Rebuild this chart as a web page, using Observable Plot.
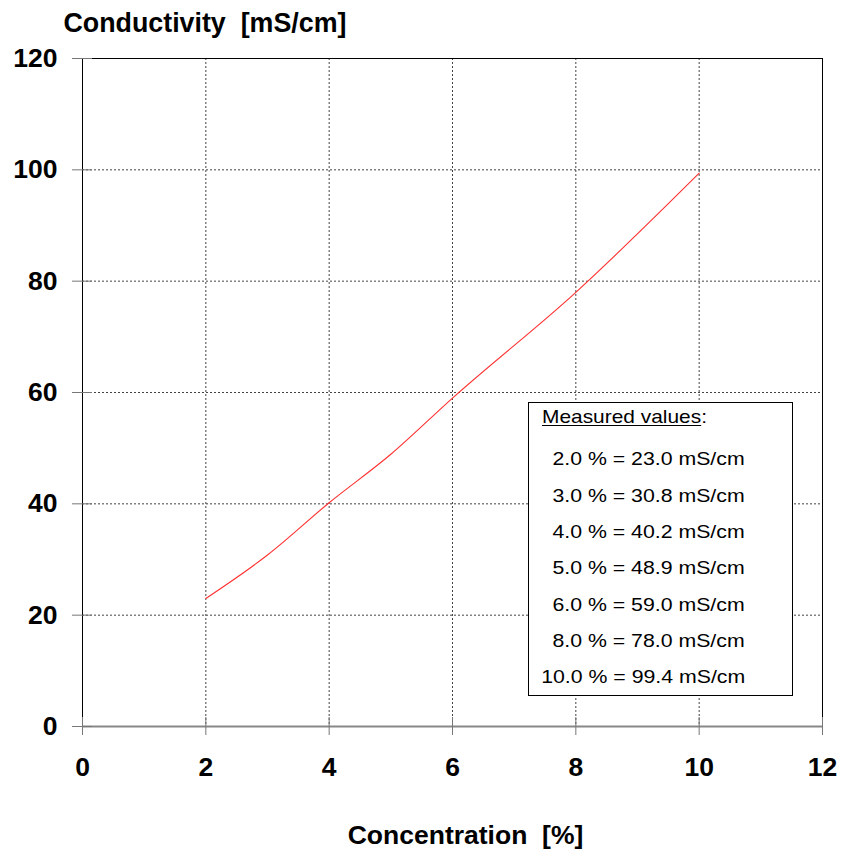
<!DOCTYPE html>
<html>
<head>
<meta charset="utf-8">
<script src="https://cdn.jsdelivr.net/npm/d3@7"></script>
<script src="https://cdn.jsdelivr.net/npm/@observablehq/plot@0.6"></script>
<style>
  html, body { margin: 0; padding: 0; background: #fff; }
  #wrap { position: relative; width: 847px; height: 852px; font-family: "Liberation Sans", Arial, sans-serif; }
  #legend { position: absolute; left: 528px; top: 402px; width: 263px; height: 292px; border: 1.5px solid #000; background: #fff; box-sizing: content-box; }
  #legend .hdr { position: absolute; left: 13px; top: 2px; font-size: 19px; line-height: 24px; transform: scaleX(1.1); transform-origin: left center; }
  #legend .hdr u { text-decoration: underline; text-underline-offset: 2px; }
  #legend .row { position: absolute; right: 47px; font-size: 19px; line-height: 24px; white-space: nowrap; transform: scaleX(1.12); transform-origin: right center; }
</style>
</head>
<body>
<div id="wrap"></div>
<script>
const concentration = [2, 3, 4, 5, 6, 8, 10];
const conductivity = [23.0, 30.8, 40.2, 48.9, 59.0, 78.0, 99.4];
const xTicks = [0, 2, 4, 6, 8, 10, 12];
const yTicks = [0, 20, 40, 60, 80, 100, 120];
const titleY = "Conductivity  [mS/cm]";
const titleX = "Concentration  [%]";
const legendTitle = "Measured values";

const data = concentration.map((c, i) => ({c, v: conductivity[i]}));
const font = "Liberation Sans, Arial, sans-serif";

const chart = Plot.plot({
  width: 847,
  height: 852,
  marginLeft: 82,
  marginTop: 58,
  marginRight: 25,
  marginBottom: 126,
  style: {fontFamily: font, background: "#fff"},
  x: {domain: [0, 12], ticks: xTicks},
  y: {domain: [0, 120], ticks: yTicks},
  marks: [
    Plot.gridX(xTicks.slice(1, -1), {stroke: "#444", strokeOpacity: 1, strokeDasharray: "2,2", strokeWidth: 1}),
    Plot.gridY(yTicks.slice(1, -1), {stroke: "#444", strokeOpacity: 1, strokeDasharray: "2,2", strokeWidth: 1}),
    Plot.frame({stroke: "#000", strokeWidth: 1}),
    Plot.ruleY([0], {stroke: "#888", strokeWidth: 2}),
    Plot.axisY(yTicks, {tickSize: 20, dx: 10, tickPadding: 15, stroke: "#777", fontSize: 26.5, fontWeight: "bold", fill: "#000", label: null}),
    Plot.axisX(xTicks, {tickSize: 18, dy: -9, tickPadding: 22, stroke: "#777", fontSize: 26.5, fontWeight: "bold", fill: "#000", label: null}),
    Plot.line(data, {x: "c", y: "v", stroke: "#ff3030", strokeWidth: 1.1, curve: "monotone-x"}),
    Plot.text([titleY], {frameAnchor: "top-left", lineAnchor: "middle", dx: -19, dy: -35, text: d => d, textAnchor: "start", fontSize: 26.8, fontWeight: "bold", fill: "#000"}),
    Plot.text([titleX], {frameAnchor: "bottom", lineAnchor: "middle", dx: 13, dy: 109, text: d => d, fontSize: 26.5, fontWeight: "bold", fill: "#000"})
  ]
});

const wrap = document.getElementById("wrap");
wrap.appendChild(chart);

const legend = document.createElement("div");
legend.id = "legend";
const hdr = document.createElement("div");
hdr.className = "hdr";
hdr.innerHTML = "<u></u>:";
hdr.querySelector("u").textContent = legendTitle;
legend.appendChild(hdr);
concentration.forEach((c, i) => {
  const r = document.createElement("div");
  r.className = "row";
  r.style.top = (8 + 36.3 * (i + 1)) + "px";
  r.textContent = `${c.toFixed(1)} % = ${conductivity[i].toFixed(1)} mS/cm`;
  legend.appendChild(r);
});
wrap.appendChild(legend);
</script>
</body>
</html>
